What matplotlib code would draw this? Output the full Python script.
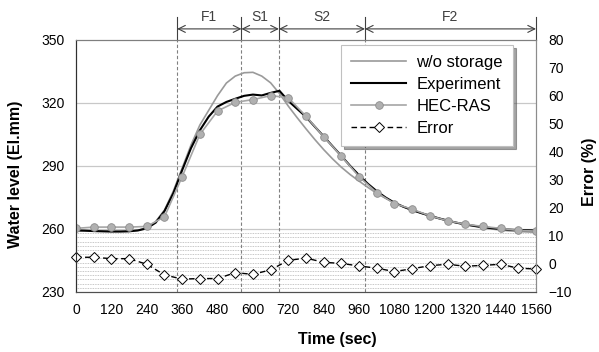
import matplotlib
matplotlib.use("Agg")
import matplotlib.pyplot as plt
import matplotlib.transforms as mtransforms

plt.rcParams['font.family'] = ['Liberation Sans', 'DejaVu Sans']

# measured / simulated water levels (El.mm)
t_line = list(range(0, 1561, 30))
experiment = [259.3, 259.2, 259.0, 258.9, 258.8, 258.8, 258.9, 259.3, 260.3, 263.0,
              268.5, 277.0, 288.0, 298.5, 307.0, 313.5, 318.3, 320.5, 322.0, 323.4,
              324.0, 323.6, 324.8, 325.8, 321.0, 317.2, 313.4, 308.7, 304.1, 299.4,
              294.8, 290.0, 285.6, 281.5, 278.0, 275.0, 272.5, 270.6, 269.0, 267.6,
              266.3, 265.1, 264.0, 263.0, 262.2, 261.5, 260.9, 260.4, 260.0, 259.7,
              259.5, 259.4, 259.3]
no_storage = [259.3, 259.2, 259.0, 258.9, 258.8, 258.8, 258.9, 259.4, 260.5, 263.5,
              269.0, 278.0, 289.0, 300.0, 309.5, 316.5, 323.5, 329.5, 332.8, 334.4,
              334.6, 332.8, 329.6, 324.5, 318.5, 313.0, 307.7, 302.6, 297.8, 293.4,
              289.4, 285.9, 282.8, 279.8, 277.0, 274.6, 272.5, 270.6, 269.0, 267.6,
              266.3, 265.1, 264.0, 263.0, 262.1, 261.3, 260.6, 260.0, 259.5, 259.1,
              258.8, 258.6, 258.4]

t_pts = list(range(0, 1561, 60))
hec_ras = [260.3, 260.9, 260.9, 260.9, 261.2, 265.8, 284.9, 305.0, 316.2, 320.3,
           321.6, 323.5, 322.5, 313.7, 303.9, 294.7, 284.9, 277.3, 272.1, 269.4,
           266.3, 263.9, 262.3, 261.2, 260.3, 259.3, 259.0]
error = [2.4, 2.4, 1.9, 1.9, -0.1, -3.9, -5.4, -5.2, -5.2, -3.1,
         -3.7, -2.1, 1.3, 2.1, 0.6, 0.2, -0.7, -1.5, -2.7, -1.7,
         -0.6, -0.1, -0.8, -0.5, -0.1, -1.5, -1.8]

# stage boundaries (sec) and names
bounds = [343, 561, 688, 980, 1560]
stages = ['F1', 'S1', 'S2', 'F2']

fig = plt.figure(figsize=(5.99, 3.52), dpi=100)
ax = fig.add_axes([0.1269, 0.1705, 0.7679, 0.7159])
ax2 = ax.twinx()

# grid
for y in [260, 290, 320]:
    ax.axhline(y, color='#c8c8c8', lw=0.9, zorder=0)
for y in range(232, 260, 2):
    ax.axhline(y, color='#b4b4b4', lw=0.6, ls=(0, (1, 1)), zorder=0)

trans = mtransforms.blended_transform_factory(ax.transData, ax.transAxes)
for b in bounds[:-1]:
    ax.plot([b, b], [0, 1], transform=trans, color='#808080', lw=0.8,
            ls=(0, (3, 2)), zorder=1)
for b in bounds:
    ax.plot([b, b], [1.0, 1.091], transform=trans, color='#404040', lw=0.8,
            clip_on=False)
for i, name in enumerate(stages):
    ax.annotate('', xy=(bounds[i], 1.044), xytext=(bounds[i + 1], 1.044),
                xycoords=trans, textcoords=trans,
                arrowprops=dict(arrowstyle='<->,head_length=0.5,head_width=0.25',
                                color='#404040', lw=0.8, shrinkA=0, shrinkB=0))
    ax.text((bounds[i] + bounds[i + 1]) / 2, 1.062, name, transform=trans,
            ha='center', va='bottom', fontsize=10, color='#404040')

l1, = ax.plot(t_line, no_storage, color='#9a9a9a', lw=1.2, label='w/o storage', zorder=2)
l2, = ax.plot(t_line, experiment, color='black', lw=1.5, label='Experiment', zorder=3)
l3, = ax.plot(t_pts, hec_ras, color='#a6a6a6', lw=1.2, marker='o', markersize=5.5,
              markerfacecolor='#b0b0b0', markeredgecolor='#8c8c8c', markeredgewidth=0.6,
              label='HEC-RAS', zorder=4)
l4, = ax2.plot(t_pts, error, color='black', lw=1.0, ls=(0, (4, 2.5)), marker='D',
               markersize=5, markerfacecolor='white', markeredgecolor='black',
               markeredgewidth=0.7, label='Error', clip_on=False)

ax.set_xlim(0, 1560)
ax.set_ylim(230, 350)
ax2.set_ylim(-10, 80)
ax.set_xticks(range(0, 1561, 120))
ax.set_yticks([230, 260, 290, 320, 350])
ax2.set_yticks(range(-10, 81, 10))
ax.tick_params(length=0, pad=8, labelsize=10)
ax2.tick_params(length=0, pad=9, labelsize=10)

for a in (ax, ax2):
    a.spines['top'].set_color('#7f7f7f')
    a.spines['right'].set_color('#8c8c8c')
    a.spines['left'].set_color('#303030')
    a.spines['bottom'].set_color('#505050')

ax.set_xlabel('Time (sec)', fontsize=11.5, fontweight='bold')
ax.set_ylabel('Water level (El.mm)', fontsize=11.5, fontweight='bold')
ax2.set_ylabel('Error (%)', fontsize=11.5, fontweight='bold')
ax.xaxis.set_label_coords(0.567, -0.16)
ax.yaxis.set_label_coords(-0.115, 0.468)
ax2.yaxis.set_label_coords(1.10, 0.476)

leg = ax2.legend(handles=[l1, l2, l3, l4], loc='upper right',
                 bbox_to_anchor=(0.95, 0.98), borderaxespad=0, fontsize=12,
                 fancybox=False, shadow=True, edgecolor='#c0c0c0',
                 handlelength=3.3, handletextpad=0.6, labelspacing=0.42,
                 borderpad=0.6, framealpha=1)
leg.get_frame().set_linewidth(0.8)

fig.savefig('out.png', dpi=100)
